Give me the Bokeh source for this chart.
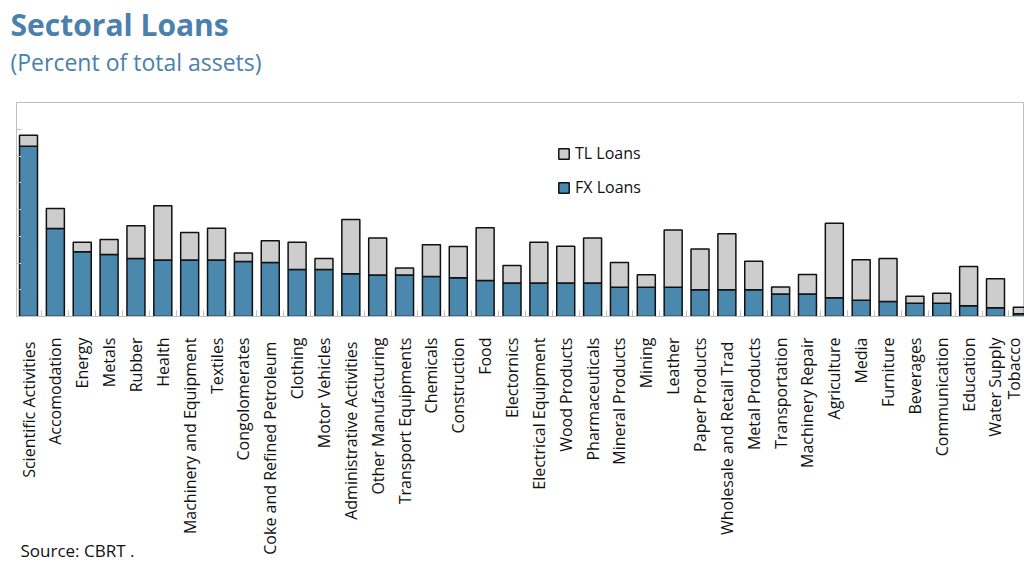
import math
from bokeh.plotting import figure
from bokeh.models import (Label, Legend, LegendItem, FixedTicker, Range1d,
                          ColumnDataSource, Title)
from bokeh.embed import file_html
from bokeh.resources import INLINE

sectors = ["Scientific  Activities", "Accomodation", "Energy", "Metals", "Rubber",
           "Health", "Machinery and Equipment", "Textiles", "Congolomerates",
           "Coke and Refined  Petroleum", "Clothing", "Motor Vehicles",
           "Administrative  Activities", "Other Manufacturing", "Transport Equipments",
           "Chemicals", "Construction", "Food", "Electornics", "Electrical Equipment",
           "Wood Products", "Pharmaceuticals", "Mineral Products", "Mining", "Leather",
           "Paper Products", "Wholesale and Retail  Trad", "Metal Products",
           "Transportation", "Machinery Repair", "Agriculture", "Media", "Furniture",
           "Beverages", "Communication", "Education", "Water Supply", "Tobacco"]

fx_loans = [6.36, 3.29, 2.42, 2.32, 2.17, 2.11, 2.11, 2.11, 2.06, 2.02, 1.76, 1.76,
            1.60, 1.55, 1.55, 1.50, 1.45, 1.35, 1.25, 1.25, 1.25, 1.25, 1.09, 1.09,
            1.09, 1.00, 1.00, 1.00, 0.84, 0.84, 0.70, 0.61, 0.56, 0.50, 0.50, 0.40,
            0.33, 0.10]

tl_loans = [0.42, 0.75, 0.36, 0.56, 1.22, 2.03, 1.03, 1.19, 0.31, 0.81, 1.02, 0.41,
            2.03, 1.38, 0.26, 1.18, 1.17, 1.97, 0.66, 1.53, 1.38, 1.68, 0.93, 0.47,
            2.14, 1.52, 2.09, 1.07, 0.26, 0.73, 2.79, 1.51, 1.61, 0.26, 0.37, 1.47,
            1.08, 0.25]

y_ticks = [1, 2, 3, 4, 5, 6, 7]

BLUE = "#4A88AE"
GRAY = "#CDCDCD"
AXIS = "#BFBFBF"
TITLE_C = "#4A80AD"
FONT = "Open Sans"

positions = list(range(len(sectors)))
src = ColumnDataSource(dict(x=positions, fx=fx_loans, tl=tl_loans))

p = figure(width=1024, height=563, output_backend="svg", toolbar_location=None,
           x_range=Range1d(-0.447, 37.08), y_range=Range1d(0, 8),
           min_border_left=16, min_border_right=0, min_border_top=101,
           min_border_bottom=247)
p.background_fill_color = "white"
p.border_fill_color = "white"
p.outline_line_color = AXIS
p.xgrid.visible = False
p.ygrid.visible = False

rs = p.vbar_stack(["fx", "tl"], x="x", width=0.67, source=src,
                  fill_color=[BLUE, GRAY], line_color="#111111", line_width=1.5)
r_fx, r_tl = rs

# x axis
xa = p.xaxis[0]
xa.ticker = FixedTicker(ticks=positions,
                        minor_ticks=[i + 0.5 for i in range(-1, len(sectors))])
xa.major_label_overrides = {i: s for i, s in enumerate(sectors)}
xa.major_label_orientation = math.pi / 2
xa.major_tick_line_color = None
xa.minor_tick_in = 6
xa.minor_tick_out = 0
xa.minor_tick_line_color = AXIS
xa.axis_line_color = AXIS
xa.major_label_standoff = 15
xa.major_label_text_font = FONT
xa.major_label_text_font_size = "16px"
xa.major_label_text_color = "#111111"

# y axis (ticks only, no labels)
ya = p.yaxis[0]
ya.ticker = FixedTicker(ticks=y_ticks)
ya.major_label_overrides = {t: "" for t in y_ticks}
ya.major_label_standoff = 0
ya.major_tick_in = 5
ya.major_tick_out = 0
ya.minor_tick_line_color = None
ya.major_tick_line_color = AXIS
ya.axis_line_color = AXIS

legend = Legend(items=[LegendItem(label="TL Loans", renderers=[r_tl]),
                       LegendItem(label="FX Loans", renderers=[r_fx])],
                location=(541, 118), border_line_color=None,
                background_fill_alpha=0, padding=0, margin=0, spacing=12,
                label_height=20, glyph_height=13, glyph_width=13,
                label_standoff=5, label_text_font=FONT,
                label_text_font_size="16px", label_text_color="#111111")
p.add_layout(legend)

source = Label(x=4, y=-448, x_units="screen", y_units="screen",
               text="Source: CBRT .", text_font=FONT, text_font_size="17px",
               text_color="#111111", text_baseline="alphabetic")
subtitle = Title(text="(Percent of total assets)", text_font=FONT,
                 text_font_size="23px", text_color=TITLE_C,
                 text_font_style="normal", align="left", offset=-6, standoff=0,
                 vertical_align="top")
title = Title(text="Sectoral Loans", text_font=FONT, text_font_style="bold",
              text_font_size="30px", text_color=TITLE_C, align="left",
              offset=-6, standoff=2)
p.add_layout(source, "above")
p.add_layout(subtitle, "above")
p.add_layout(title, "above")

open("out.html", "w").write(file_html(p, INLINE))
